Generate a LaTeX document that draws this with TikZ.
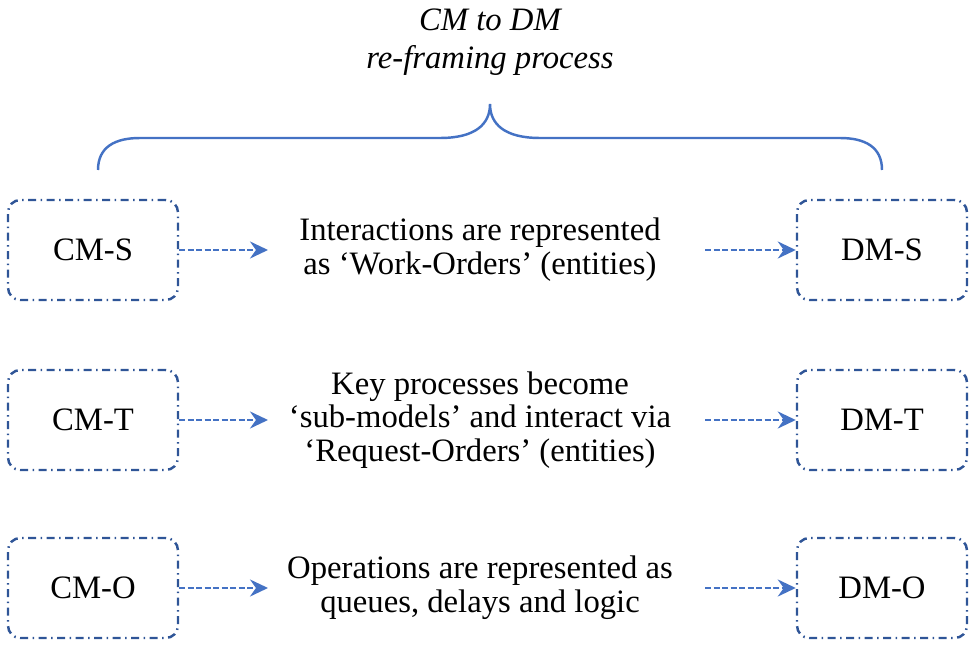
\documentclass[tikz,border=0pt]{standalone}
\usepackage{fontspec}
\setmainfont{Liberation Serif}
\usepackage{xcolor}
\usepackage{tikz}
\usetikzlibrary{arrows.meta, positioning}
\definecolor{boxblue}{RGB}{47,85,151}
\definecolor{arrowblue}{RGB}{68,114,196}
\tikzset{
  modelbox/.style={
    draw=boxblue, rounded corners=7pt, line width=1.4pt, align=center,
    dash pattern=on 0.16cm off 0.09cm on 0.03cm off 0.09cm,
    minimum width=3.4cm, minimum height=2cm,
    font=\fontsize{18.6}{19.2}\selectfont
  },
  flowarrow/.style={
    draw=arrowblue, line width=1.6pt, dash pattern=on 0.12cm off 0.05cm,
    -{Stealth[length=3.6mm, width=3.4mm, inset=1.2mm]}
  },
  flowlabel/.style={
    align=center, font=\fontsize{18.6}{19.2}\selectfont
  },
}

\begin{document}
\begin{tikzpicture}
  \useasboundingbox (0,0) rectangle (19.6,13.04);

  % === Title and brace ===
  \node[flowlabel, font=\fontsize{18.6}{21.5}\selectfont\itshape] (title) at (9.8,12.2)
    {CM to DM\\re-framing process};

  \draw[arrowblue, line width=1.4pt]
    (1.96,9.64) .. controls (1.96,10.1) and (2.3,10.28) .. (2.8,10.28)
    -- (8.8,10.28) .. controls (9.5,10.28) and (9.8,10.55) .. (9.8,10.96)
    .. controls (9.8,10.55) and (10.1,10.28) .. (10.8,10.28)
    -- (16.8,10.28) .. controls (17.3,10.28) and (17.64,10.1) .. (17.64,9.64);

  % === Row S ===
  \node[modelbox] (cms) at (1.86,8.04) {CM-S};
  \node[modelbox] (dms) at (17.64,8.04) {DM-S};
  \node[flowlabel] (txts) at (9.6,8.04)
    {Interactions are represented\\as ‘Work-Orders’ (entities)};
  \coordinate (ins) at (5.36,8.04);
  \coordinate (outs) at (14.1,8.04);
  \draw[flowarrow] (cms.east) -- (ins);
  \draw[flowarrow] (outs) -- (dms.west);

  % === Row T ===
  \node[modelbox] (cmt) at (1.86,4.64) {CM-T};
  \node[modelbox] (dmt) at (17.64,4.64) {DM-T};
  \node[flowlabel] (txtt) at (9.6,4.64)
    {Key processes become\\‘sub-models’ and interact via\\‘Request-Orders’ (entities)};
  \coordinate (int) at (5.36,4.64);
  \coordinate (outt) at (14.1,4.64);
  \draw[flowarrow] (cmt.east) -- (int);
  \draw[flowarrow] (outt) -- (dmt.west);

  % === Row O ===
  \node[modelbox] (cmo) at (1.86,1.28) {CM-O};
  \node[modelbox] (dmo) at (17.64,1.28) {DM-O};
  \node[flowlabel] (txto) at (9.6,1.28)
    {Operations are represented as\\queues, delays and logic};
  \coordinate (ino) at (5.36,1.28);
  \coordinate (outo) at (14.1,1.28);
  \draw[flowarrow] (cmo.east) -- (ino);
  \draw[flowarrow] (outo) -- (dmo.west);

\end{tikzpicture}
\end{document}
